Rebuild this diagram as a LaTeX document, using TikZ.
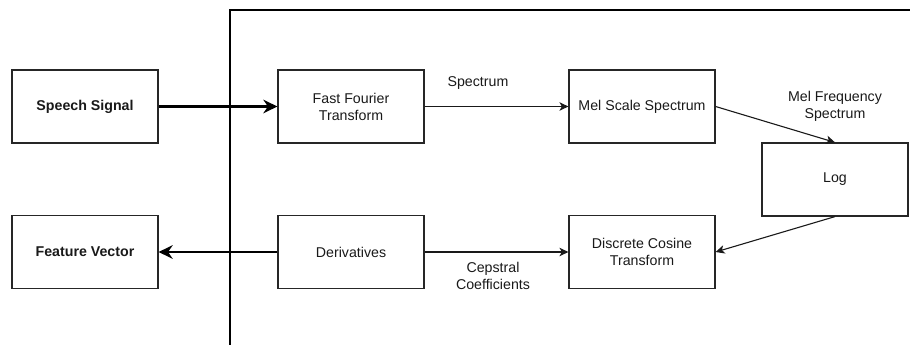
\documentclass[tikz,border=0pt]{standalone}
\usepackage{fontspec}
\setmainfont{Liberation Sans}
\usetikzlibrary{arrows.meta}
\begin{document}
\begin{tikzpicture}[x=1pt,y=-1pt,
  font=\fontsize{14.2}{17}\selectfont,
  stage/.style={draw=black!85,line width=1.2pt,minimum width=146pt,minimum height=73pt,
    inner sep=0pt,align=center,text=black!90},
  flow/.style={line width=1.1pt,draw=black!90,-{Stealth[length=9pt,width=8.5pt,inset=2.5pt]}},
  bigflow/.style={line width=2.4pt,draw=black,-{Stealth[length=14pt,width=13.5pt,inset=4.5pt]}},
  tag/.style={align=center,text=black!90,inner sep=0pt}]
\useasboundingbox (0,0) rectangle (910,345);
% frame of the processing block
\draw[line width=1.6pt] (230,345) -- (230,10) -- (910,10);
% stages
\node[stage,font=\fontsize{14.2}{17}\selectfont\bfseries] (sig) at (85,106.5) {Speech Signal};
\node[stage,font=\fontsize{14.2}{17}\selectfont\bfseries] (feat) at (85,252) {Feature Vector};
\node[stage] (fft) at (351,106.5) {Fast Fourier\\Transform};
\node[stage] (der) at (351,252) {Derivatives};
\node[stage] (mel) at (642,106.5) {Mel Scale Spectrum};
\node[stage] (dct) at (642,252) {Discrete Cosine\\Transform};
\node[stage] (log) at (835,179.5) {Log};
% connectors
\draw[bigflow] (sig) -- (fft);
\draw[bigflow] (der) -- (feat);
\draw[flow] (fft) -- (mel);
\draw[flow] (mel.east) -- (log.north);
\draw[flow] (log.south) -- (dct.east);
\draw[flow] (der) -- (dct);
% labels
\node[tag] (lspec) at (478,83) {Spectrum};
\node[tag] (lmel) at (835,106) {Mel Frequency\\Spectrum};
\node[tag] (lcep) at (493,276) {Cepstral\\Coefficients};
\end{tikzpicture}
\end{document}
